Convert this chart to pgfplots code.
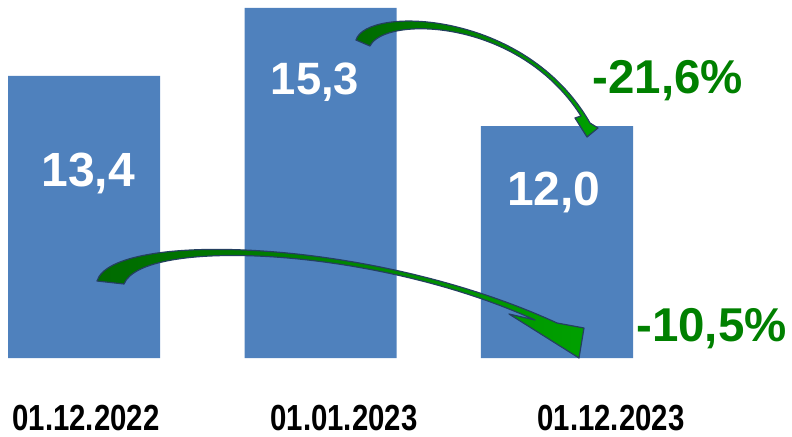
\documentclass[border=0pt]{standalone}
\usepackage{fontspec}
\setmainfont{Liberation Sans}
\newfontfamily\narrowfont[FakeStretch=0.81]{Liberation Sans}
\usepackage{pgfplots}
\pgfplotsset{compat=1.18}
\definecolor{barblue}{HTML}{4F81BD}
\definecolor{pctgreen}{HTML}{008000}
\definecolor{arrowedge}{HTML}{243F60}
\definecolor{arrowdark}{HTML}{006A00}
\definecolor{arrowlight}{HTML}{00A000}
\begin{document}
\begin{tikzpicture}
\begin{axis}[
  scale only axis, width=594pt, height=268.5pt,
  xmin=-0.3552, xmax=2.9937, ymin=5.52, ymax=15.52,
  axis line style={draw=none}, major tick length=0pt,
  ytick=\empty,
  xtick={0.008,1.099,2.228},
  xticklabels={01.12.2022,01.01.2023,01.12.2023},
  xticklabel style={anchor=base, inner sep=0pt, yshift=-54pt,
    font=\narrowfont\bfseries\fontsize{27.2}{29}\selectfont},
  ybar, bar width=114pt,
]
\addplot[fill=barblue, draw=none] coordinates {(0,13.4) (1,15.3) (2,12.0)};
% value labels
\node[anchor=base, text=white, font=\bfseries\fontsize{36}{40}\selectfont] at (axis cs:0.017,10.30) {13,4};
\node[anchor=base, text=white, font=\bfseries\fontsize{34}{38}\selectfont] at (axis cs:0.977,12.87) {15,3};
\node[anchor=base, text=white, font=\bfseries\fontsize{36}{40}\selectfont] at (axis cs:1.987,9.79) {12,0};
% changes
\node[anchor=base, text=pctgreen, font=\bfseries\fontsize{35.6}{38}\selectfont] at (axis cs:2.469,12.92) {-21,6\%};
\node[anchor=base, text=pctgreen, font=\bfseries\fontsize{35.6}{38}\selectfont] at (axis cs:2.653,5.975) {-10,5\%};
\coordinate (tl) at (rel axis cs:0,1);
\coordinate (br) at (rel axis cs:1,0);
\end{axis}
% curved arrows, pixel units from the top left corner
\begin{scope}[shift={(tl)}, x=0.75pt, y=-0.75pt]
\path[draw=arrowedge, line width=0.9pt, line join=round, left color=arrowdark, right color=arrowlight]
  (356,40) .. controls (366,6) and (525,9) .. (590,123)
  -- (598,128) -- (587,137) -- (575,118) -- (581,116)
  .. controls (518,17) and (384,16) .. (370,46) -- cycle;
\path[draw=arrowedge, line width=0.9pt, line join=round, left color=arrowdark, right color=arrowlight]
  (97,281) .. controls (112,231) and (370,237) .. (557,323)
  -- (584,328) -- (579,358) -- (509,314) -- (535,320)
  .. controls (372,246) and (142,238) .. (124,284) -- cycle;
\end{scope}
\pgfresetboundingbox
\path[use as bounding box] (tl) rectangle ([yshift=-58.5pt]br);
\end{tikzpicture}
\end{document}
